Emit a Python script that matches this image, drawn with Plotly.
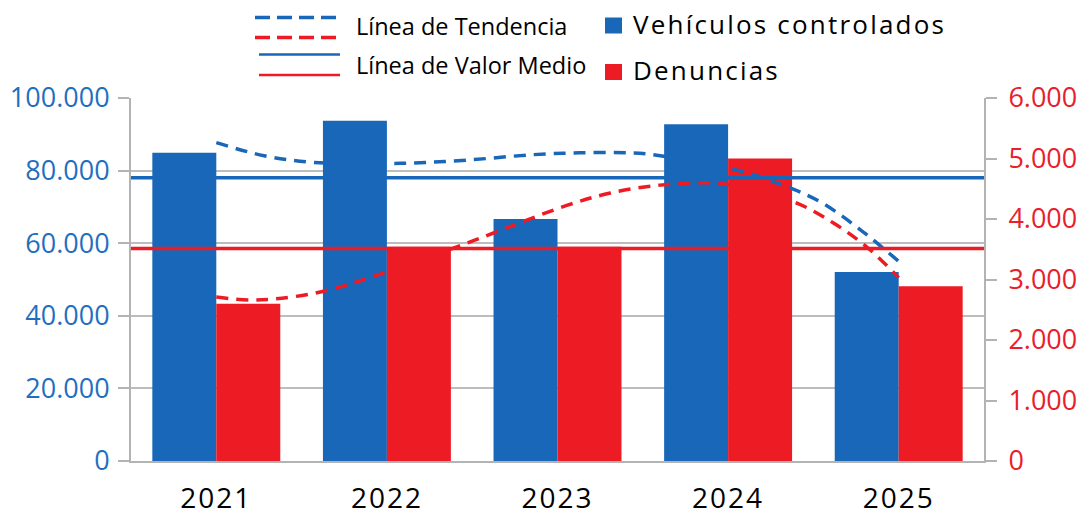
import numpy as np
import plotly.graph_objects as go

# ---------------- data ----------------
years = ["2021", "2022", "2023", "2024", "2025"]
vehiculos = [84900, 93700, 66700, 92800, 52100]
denuncias = [2600, 3540, 3540, 5000, 2890]

# trend curves (category index, value)
trend_idx_veh = [0.0, 0.28, 0.56, 1.08, 1.47, 1.86, 2.13, 2.41, 2.54, 3.03, 3.32, 3.54, 3.77, 4.0]
trend_veh = [87700, 84100, 82300, 82000, 82900, 84400, 84900, 84900, 84500, 80400, 76000, 71400, 63900, 55000]
trend_idx_den = [0.0, 0.2, 0.35, 0.55, 0.73, 0.92, 1.41, 1.70, 2.05, 2.31, 2.60, 2.89, 2.99, 3.38, 3.62, 3.82, 4.0]
trend_den = [2710, 2660, 2680, 2760, 2880, 3050, 3540, 3850, 4220, 4430, 4560, 4600, 4575, 4290, 3930, 3520, 3030]

left_ticks = [0, 20000, 40000, 60000, 80000, 100000]
right_ticks = [0, 1000, 2000, 3000, 4000, 5000, 6000]

# ---------------- style ----------------
BLUE = "#1967B9"
RED = "#EC1B24"
BLUE_TXT = "#1F6FC0"
RED_TXT = "#E8202A"
GRID = "#BDBDBD"
AXIS = "#B3B3B3"
FONT = "Open Sans"

W, H = 1079, 515
L, R, T, B = 131, 984, 98, 461

def px(x):
    return (x - L) / (R - L)

def py(y):
    return (B - y) / (B - T)

xidx = list(range(len(years)))
xlabels = ["<span style='letter-spacing:2px'>%s</span>" % y for y in years]

fig = go.Figure()
fig.add_trace(go.Bar(x=xidx, y=vehiculos, width=0.375, offset=-0.375,
                     marker=dict(color=BLUE, line=dict(width=0)),
                     yaxis="y", showlegend=False, name="Vehículos controlados"))
fig.add_trace(go.Bar(x=xidx, y=denuncias, width=0.375, offset=0.0,
                     marker=dict(color=RED, line=dict(width=0)),
                     yaxis="y2", showlegend=False, name="Denuncias"))
fig.add_trace(go.Scatter(x=trend_idx_den, y=trend_den, mode="lines", yaxis="y2",
                         line=dict(color=RED, width=3.5, dash="12px,8px", shape="spline", smoothing=1),
                         showlegend=False, hoverinfo="skip"))
fig.add_trace(go.Scatter(x=trend_idx_veh, y=trend_veh, mode="lines", yaxis="y3",
                         line=dict(color=BLUE, width=3.5, dash="12px,8px", shape="spline", smoothing=1),
                         showlegend=False, hoverinfo="skip"))

mean_v = float(np.mean(vehiculos))
mean_d = float(np.mean(denuncias))

shapes = [
    dict(type="line", xref="x domain", yref="y", x0=0, x1=1, y0=mean_v, y1=mean_v,
         line=dict(color=BLUE, width=3.5), layer="above"),
    dict(type="line", xref="x domain", yref="y2", x0=0, x1=1, y0=mean_d, y1=mean_d,
         line=dict(color=RED, width=3.5), layer="above"),
]

# custom legend
def hline(x0, x1, y, color, width, dash="solid"):
    return dict(type="line", xref="paper", yref="paper", x0=px(x0), x1=px(x1),
                y0=py(y), y1=py(y), line=dict(color=color, width=width, dash=dash))

shapes += [
    hline(255, 337, 17.5, BLUE, 3.5, "15px,7px"),
    hline(255, 337, 37.5, RED, 3.5, "15px,7px"),
    hline(259, 340, 54.5, BLUE, 2.5),
    hline(259, 340, 75, RED, 2.5),
    dict(type="rect", xref="paper", yref="paper", x0=px(605), x1=px(622), y0=py(33.5), y1=py(17.5),
         fillcolor=BLUE, line=dict(width=0)),
    dict(type="rect", xref="paper", yref="paper", x0=px(605), x1=px(622), y0=py(80), y1=py(64),
         fillcolor=RED, line=dict(width=0)),
]

annotations = [
    dict(text="Línea de Tendencia", x=px(354), y=py(26), xref="paper", yref="paper",
         xanchor="left", yanchor="middle", showarrow=False, font=dict(family=FONT, size=23.5, color="#000")),
    dict(text="Línea de Valor Medio", x=px(354), y=py(65), xref="paper", yref="paper",
         xanchor="left", yanchor="middle", showarrow=False, font=dict(family=FONT, size=23.5, color="#000")),
    dict(text="<span style='letter-spacing:2.2px'>Vehículos controlados</span>", x=px(631), y=py(24),
         xref="paper", yref="paper", xanchor="left", yanchor="middle", showarrow=False,
         font=dict(family=FONT, size=26, color="#000")),
    dict(text="<span style='letter-spacing:2.2px'>Denuncias</span>", x=px(631), y=py(70),
         xref="paper", yref="paper", xanchor="left", yanchor="middle", showarrow=False,
         font=dict(family=FONT, size=26, color="#000")),
]

fig.update_layout(
    width=W, height=H,
    margin=dict(l=L, r=W - R, t=T, b=H - B, pad=0, autoexpand=False),
    paper_bgcolor="white", plot_bgcolor="white",
    separators=",.",
    barmode="overlay",
    shapes=shapes, annotations=annotations,
    font=dict(family=FONT),
    xaxis=dict(range=[-0.5, 4.5], tickmode="array", tickvals=xidx, ticktext=xlabels, automargin=False,
               ticks="", showgrid=False, zeroline=False, showline=True, linecolor=AXIS, linewidth=2,
               tickfont=dict(family=FONT, size=28, color="#000"), ticklabelstandoff=11),
    xaxis2=dict(range=[-0.5, 4.5], overlaying="x", anchor="y", side="bottom", automargin=False,
                tickmode="array", tickvals=[-0.5, 0.5, 1.5, 2.5, 3.5, 4.5],
                ticks="outside", ticklen=11, tickwidth=2, tickcolor=AXIS,
                showticklabels=False, showgrid=False, zeroline=False, showline=False),
    yaxis=dict(range=[0, 100000], tickmode="array", tickvals=left_ticks, tickformat=",d", automargin=False,
               ticks="outside", ticklen=11, tickwidth=2, tickcolor=AXIS,
               showgrid=True, gridcolor=GRID, gridwidth=1.5, zeroline=False,
               showline=True, linecolor=AXIS, linewidth=2,
               tickfont=dict(family=FONT, size=27, color=BLUE_TXT), ticklabelstandoff=3),
    yaxis2=dict(range=[0, 6000], overlaying="y", side="right", anchor="x", automargin=False,
                tickmode="array", tickvals=right_ticks, tickformat=",d",
                ticks="outside", ticklen=11, tickwidth=2, tickcolor=AXIS,
                showgrid=False, zeroline=False, showline=True, linecolor=AXIS, linewidth=2,
                tickfont=dict(family=FONT, size=27, color=RED_TXT), ticklabelstandoff=6),
    yaxis3=dict(range=[0, 100000], overlaying="y", anchor="x", visible=False, automargin=False),
)

fig.write_html("out.html", config={"displayModeBar": False},
               post_script="document.body.style.margin='0';document.body.style.overflow='hidden';")
